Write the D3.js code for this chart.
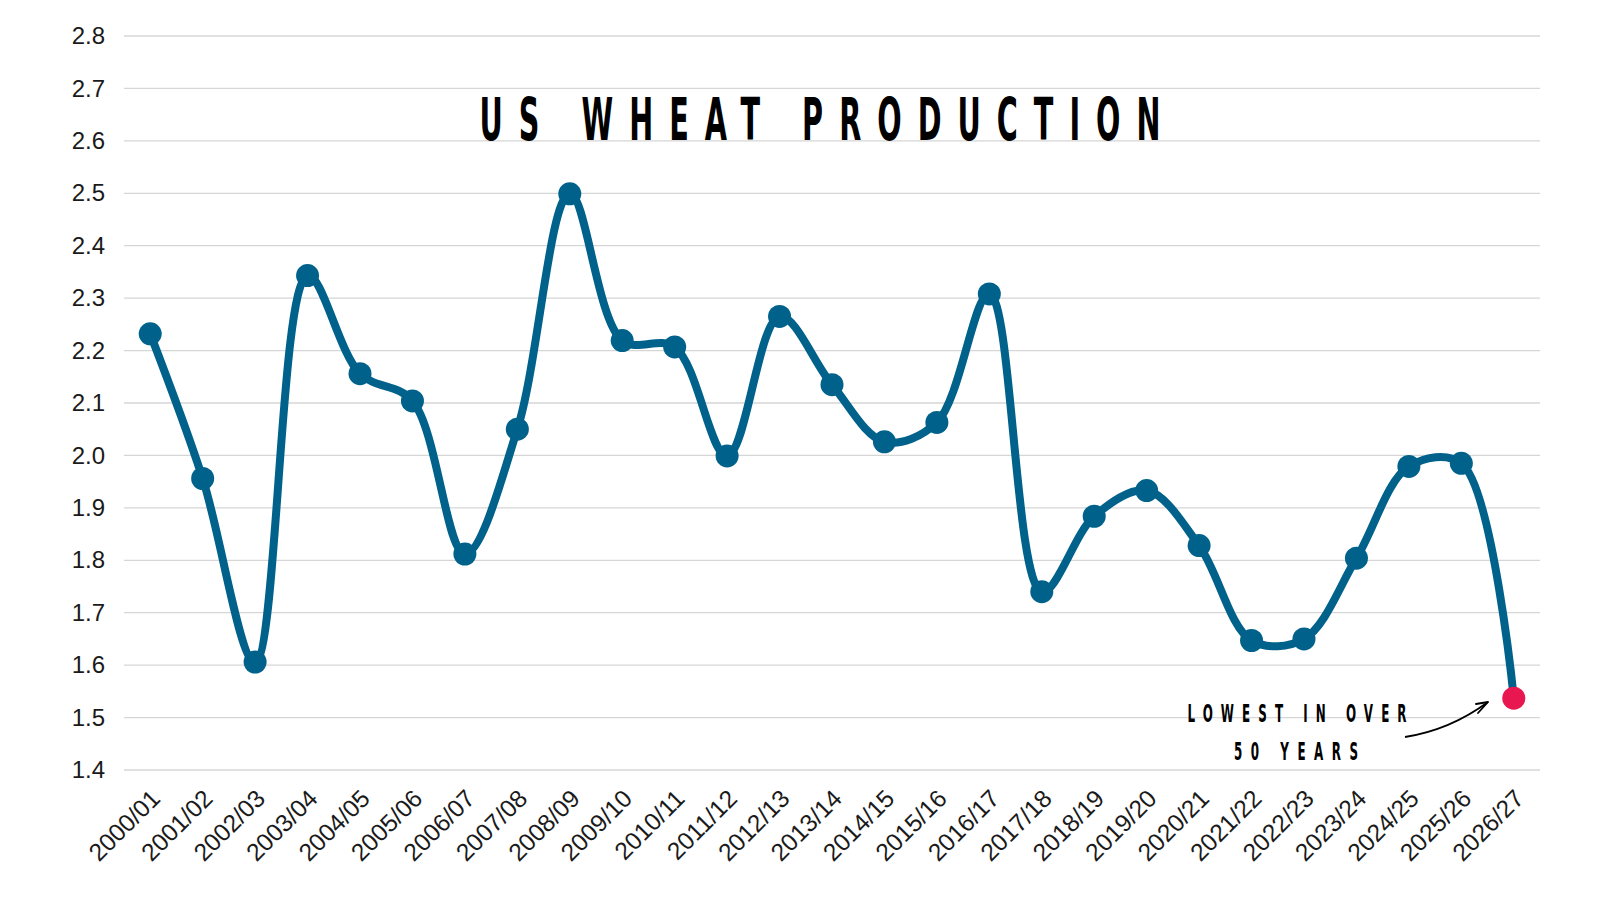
<!DOCTYPE html>
<html><head><meta charset="utf-8">
<script src="https://cdn.jsdelivr.net/npm/d3@7"></script>
<style>
html,body{margin:0;padding:0;background:#fff;}
svg{display:block;}
</style></head>
<body>
<svg id="chart" width="1600" height="900"></svg>
<script>
const seasons = ["2000/01","2001/02","2002/03","2003/04","2004/05","2005/06","2006/07","2007/08","2008/09","2009/10","2010/11","2011/12","2012/13","2013/14","2014/15","2015/16","2016/17","2017/18","2018/19","2019/20","2020/21","2021/22","2022/23","2023/24","2024/25","2025/26","2026/27"];
const production = [2.232,1.956,1.606,2.343,2.156,2.104,1.812,2.050,2.499,2.219,2.207,1.999,2.265,2.135,2.026,2.063,2.308,1.740,1.884,1.933,1.828,1.647,1.650,1.804,1.979,1.985,1.537];
const yTicks = [1.4,1.5,1.6,1.7,1.8,1.9,2.0,2.1,2.2,2.3,2.4,2.5,2.6,2.7,2.8];
const titleText = "US WHEAT PRODUCTION";
const noteLines = ["LOWEST IN OVER","50 YEARS"];

(function(){
const svg = d3.select("#chart");
const mLeft = 124, mRight = 1540, mTop = 36, mBottom = 770;
const x = d3.scalePoint().domain(seasons).range([mLeft, mRight]).padding(0.5);
const y = d3.scaleLinear().domain([1.4, 2.8]).range([mBottom, mTop]);
const condensed = "DejaVu Sans Condensed, DejaVu Sans, sans-serif";

svg.append("g").selectAll("line").data(yTicks).join("line")
  .attr("x1", mLeft).attr("x2", mRight)
  .attr("y1", d => y(d)).attr("y2", d => y(d))
  .attr("stroke", "#d6d6d6").attr("stroke-width", 1.3);

const yAxis = d3.axisLeft(y).tickValues(yTicks).tickFormat(d3.format(".1f")).tickSize(0).tickPadding(19);
const gy = svg.append("g").attr("transform", `translate(${mLeft},0)`).call(yAxis);
gy.select(".domain").remove();
gy.selectAll("text").attr("font-family", "Liberation Sans, Arial, sans-serif").attr("font-size", 24).attr("fill", "#1a1a1a");

const xAxis = d3.axisBottom(x).tickSize(0).tickPadding(0);
const gx = svg.append("g").attr("transform", `translate(0,${mBottom})`).call(xAxis);
gx.select(".domain").remove();
gx.selectAll("text")
  .attr("font-family", "Liberation Sans, Arial, sans-serif").attr("font-size", 24.5).attr("fill", "#1a1a1a")
  .attr("text-anchor", "end").attr("dy", null).attr("y", 0)
  .attr("transform", "translate(11,30) rotate(-45)");

function spacedText(str, cx, baseline, size, width, sx) {
  const g = svg.append("g").attr("transform", `translate(${cx},${baseline}) scale(${sx},1)`);
  g.append("text").attr("x", 0).attr("y", 0)
    .attr("text-anchor", "middle")
    .attr("font-family", condensed).attr("font-weight", "bold")
    .attr("font-size", size).attr("fill", "#000")
    .attr("textLength", width / sx).attr("lengthAdjust", "spacing")
    .text(str);
}

spacedText(titleText, 820, 140, 59, 681, 0.54);

const line = d3.line().x((d,i) => x(seasons[i])).y(d => y(d)).curve(d3.curveCatmullRom.alpha(0.5));
svg.append("path").datum(production).attr("d", line)
  .attr("fill", "none").attr("stroke", "#00628b").attr("stroke-width", 8)
  .attr("stroke-linejoin", "round").attr("stroke-linecap", "round");

svg.append("g").selectAll("circle").data(production).join("circle")
  .attr("cx", (d,i) => x(seasons[i])).attr("cy", d => y(d))
  .attr("r", 11.5)
  .attr("fill", (d,i) => i === production.length - 1 ? "#e8174f" : "#00628b");

spacedText(noteLines[0], 1297, 722, 24.5, 219, 0.54);
spacedText(noteLines[1], 1296, 760, 24.5, 124, 0.54);

svg.append("path")
  .attr("d", "M1405,737 Q1450,730 1488,702")
  .attr("fill", "none").attr("stroke", "#000").attr("stroke-width", 1.8);
svg.append("path")
  .attr("d", "M1476,704 L1488,702 L1478,713")
  .attr("fill", "none").attr("stroke", "#000").attr("stroke-width", 1.8)
  .attr("stroke-linejoin", "round").attr("stroke-linecap", "round");
})();
</script>
</body></html>
